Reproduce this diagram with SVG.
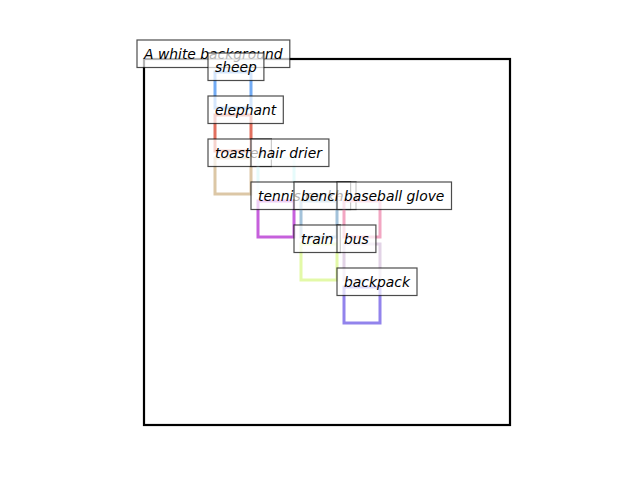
<svg xmlns="http://www.w3.org/2000/svg" width="640" height="480" viewBox="0 0 640 480">
<style>
.bb{fill:none;stroke-width:3}
.fr{fill:none;stroke:#000;stroke-width:2.2}
.lb{fill:#fff;fill-opacity:0.7;stroke:#000;stroke-opacity:0.7;stroke-width:1.2}
.tx{font-family:"DejaVu Sans","Liberation Sans",sans-serif;font-style:italic;font-size:13.89px;fill:#000}
</style>
<rect width="640" height="480" fill="#fff"/>
<g id="background">
<rect class="fr" x="144" y="59" width="366" height="366"/>
<rect class="lb" x="137" y="40" width="152.8" height="27.5"/>
<text class="tx" x="144" y="59">A white background</text>
</g>
<g id="sheep">
<rect class="bb" x="215" y="72" width="36" height="36" stroke="#72abf4"/>
<rect class="lb" x="208" y="53" width="55.9" height="27.5"/>
<text class="tx" x="215" y="72">sheep</text>
</g>
<g id="elephant">
<rect class="bb" x="215" y="115" width="36" height="36" stroke="#e2705f"/>
<rect class="lb" x="208" y="96" width="75.3" height="27.5"/>
<text class="tx" x="215" y="115">elephant</text>
</g>
<g id="toaster">
<rect class="bb" x="215" y="158" width="36" height="36" stroke="#dcc7a6"/>
<rect class="lb" x="208" y="139" width="63.4" height="27.5"/>
<text class="tx" x="215" y="158">toaster</text>
</g>
<g id="hair-drier">
<rect class="bb" x="258" y="158" width="36" height="36" stroke="#e6fbfb"/>
<rect class="lb" x="251" y="139" width="77.9" height="27.5"/>
<text class="tx" x="258" y="158">hair drier</text>
</g>
<g id="tennis-racket">
<rect class="bb" x="258" y="201" width="36" height="36" stroke="#c660dc"/>
<rect class="lb" x="251" y="182" width="105" height="27.5"/>
<text class="tx" x="258" y="201">tennis racket</text>
</g>
<g id="bench">
<rect class="bb" x="301" y="201" width="36" height="36" stroke="#a3c2da"/>
<rect class="lb" x="294" y="182" width="56.6" height="27.5"/>
<text class="tx" x="301" y="201">bench</text>
</g>
<g id="baseball-glove">
<rect class="bb" x="344" y="201" width="36" height="36" stroke="#f2a6c2"/>
<rect class="lb" x="337" y="182" width="114.5" height="27.5"/>
<text class="tx" x="344" y="201">baseball glove</text>
</g>
<g id="train">
<rect class="bb" x="301" y="244" width="36" height="36" stroke="#e3f9a8"/>
<rect class="lb" x="294" y="225" width="46.3" height="27.5"/>
<text class="tx" x="301" y="244">train</text>
</g>
<g id="bus">
<rect class="bb" x="344" y="244" width="36" height="36" stroke="#e2d3e6"/>
<rect class="lb" x="337" y="225" width="38.9" height="27.5"/>
<text class="tx" x="344" y="244">bus</text>
</g>
<g id="backpack">
<rect class="bb" x="344" y="287" width="36" height="36" stroke="#9283ec"/>
<rect class="lb" x="337" y="268" width="80" height="27.5"/>
<text class="tx" x="344" y="287">backpack</text>
</g>
</svg>
